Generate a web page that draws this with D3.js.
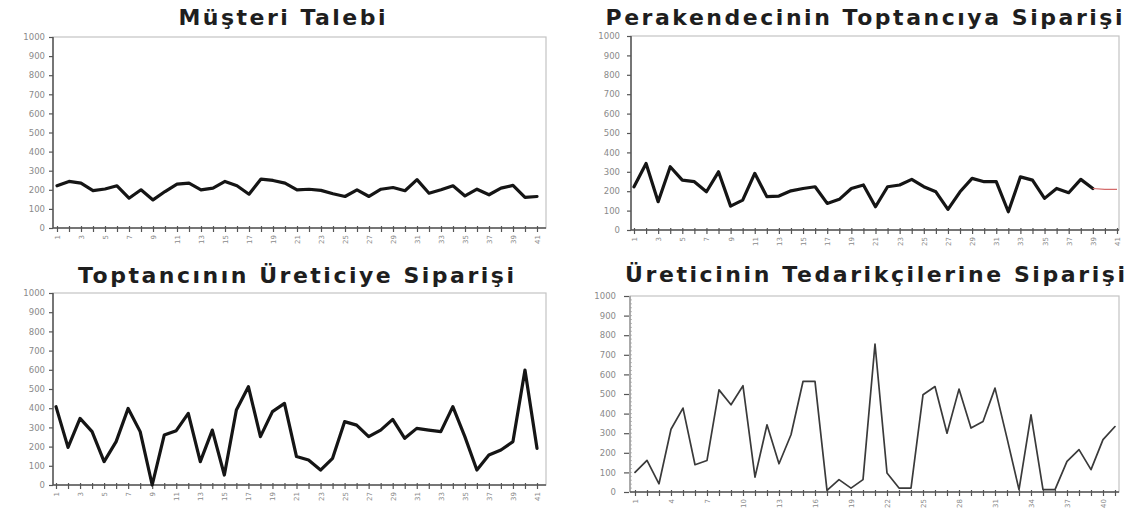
<!DOCTYPE html>
<html><head><meta charset="utf-8">
<script src="https://cdn.jsdelivr.net/npm/d3@7/dist/d3.min.js"></script>
<style>body{margin:0;background:#fff}svg{display:block}</style>
</head><body>
<script>
// ---- data ----
const weeks = [1,2,3,4,5,6,7,8,9,10,11,12,13,14,15,16,17,18,19,20,21,22,23,24,25,26,27,28,29,30,31,32,33,34,35,36,37,38,39,40,41];
const yTicks = [0,100,200,300,400,500,600,700,800,900,1000];
const xLabelsOdd = [1,3,5,7,9,11,13,15,17,19,21,23,25,27,29,31,33,35,37,39,41];
const xLabelsThird = [1,4,7,10,13,16,19,22,25,28,31,34,37,40];
const titles = ["Müşteri Talebi","Perakendecinin Toptancıya Siparişi","Toptancının Üreticiye Siparişi","Üreticinin Tedarikçilerine Siparişi"];
const musteriTalebi = [221,244,235,196,204,221,156,200,147,191,230,235,200,209,244,221,177,256,249,235,200,203,197,179,165,200,165,203,212,195,253,182,200,221,168,203,174,209,223,160,165];
const perakendeSiparisi = [223,343,146,326,257,249,197,300,123,154,292,172,175,202,214,223,137,158,214,232,120,223,232,261,223,197,106,197,266,249,249,94,274,257,163,214,192,261,214,209,209];
const toptanciSiparisi = [408,196,347,278,122,226,399,278,0,260,283,373,122,286,52,391,512,252,382,425,148,130,78,139,330,312,252,286,342,243,295,286,278,408,252,78,156,182,226,599,191];
const ureticiSiparisi = [100,161,42,320,428,139,161,521,445,542,76,343,144,292,564,564,8,63,20,63,755,97,20,20,496,538,300,525,326,360,530,275,12,394,12,12,156,216,114,267,334];

// ---- layout ----
const svg = d3.select("body").append("svg").attr("width",1129).attr("height",508);

const panels = [
  {title:titles[0], data:musteriTalebi, labels:xLabelsOdd, box:[53,546,37,228], px:[57,537],
   tx:282, ty:25, tw:207, lw:3.2, col:"#151515", yGap:8, redTail:0, thin:false},
  {title:titles[1], data:perakendeSiparisi, labels:xLabelsOdd, box:[631,1119,36,230], px:[634,1117],
   tx:864, ty:25, tw:517, lw:3.2, col:"#151515", yGap:11, redTail:2, thin:false},
  {title:titles[2], data:toptanciSiparisi, labels:xLabelsOdd, box:[53,546,293,485], px:[56,537],
   tx:296, ty:283, tw:436, lw:3.2, col:"#151515", yGap:8, redTail:0, thin:false},
  {title:titles[3], data:ureticiSiparisi, labels:xLabelsThird, box:[630,1119,296,492], px:[635,1115],
   tx:875, ty:282, tw:500, lw:1.7, col:"#3a3a3a", yGap:14, redTail:0, thin:true}
];

panels.forEach(p => {
  const [x0,x1,y0,y1] = p.box;
  const g = svg.append("g");
  const x = d3.scalePoint().domain(weeks).range(p.px);
  const y = d3.scaleLinear().domain([0,1000]).range([y1,y0]);

  // title
  g.append("text").attr("x",p.tx).attr("y",p.ty).attr("text-anchor","middle")
    .attr("textLength",p.tw).attr("lengthAdjust","spacing")
    .style("font-family","'DejaVu Sans', Verdana, sans-serif").style("font-weight","bold")
    .style("font-size","22px").style("fill","#1e1e1e").text(p.title);

  // frame (top/right light)
  g.append("rect").attr("x",x0).attr("y",y0).attr("width",x1-x0).attr("height",y1-y0)
    .attr("fill","none").attr("stroke","#c4c4c4").attr("stroke-width",1.2);

  // y axis
  const ya = g.append("g").attr("transform",`translate(${x0},0)`)
    .call(d3.axisLeft(y).tickValues(yTicks).tickSize(4).tickPadding(p.yGap-4).tickFormat(d3.format("d")));
  ya.select(".domain").remove();
  ya.selectAll(".tick line").attr("stroke","#555").attr("stroke-width",1.2);
  ya.selectAll(".tick text").style("font-family","'DejaVu Sans', sans-serif").style("font-size","8.5px").style("fill","#8a8a8a");
  if (p.thin) {
    ya.selectAll(".tick line").attr("x1",-6).attr("x2",-1);
    const minor = d3.range(0,1000,20);
    g.selectAll(null).data(minor).enter().append("line")
      .attr("x1",x0).attr("x2",x0+2).attr("y1",d=>y(d)).attr("y2",d=>y(d))
      .attr("stroke","#aaa").attr("stroke-width",0.8);
  }
  g.append("line").attr("x1",x0).attr("x2",x0).attr("y1",y0).attr("y2",y1)
    .attr("stroke", p.thin ? "#9a9a9a" : "#555").attr("stroke-width",1.5);

  // x axis
  const xa = g.append("g").attr("transform",`translate(0,${y1})`)
    .call(d3.axisBottom(x).tickValues(weeks).tickSize(4).tickSizeOuter(0)
      .tickFormat(d => p.labels.includes(d) ? d : ""));
  xa.select(".domain").remove();
  xa.selectAll(".tick line").attr("stroke","#555").attr("stroke-width",1.2).attr("y1",-2);
  xa.selectAll(".tick text")
    .attr("transform","rotate(-90)").attr("x",-7).attr("y",0).attr("dy","0.35em")
    .style("text-anchor","end").style("font-family","'DejaVu Sans', sans-serif")
    .style("font-size","7px").style("fill","#8a8a8a");
  g.append("line").attr("x1",x0).attr("x2",x1).attr("y1",y1).attr("y2",y1)
    .attr("stroke","#555").attr("stroke-width",1.5);

  // series line
  const line = d3.line().x((d,i)=>x(weeks[i])).y(d=>y(d));
  const n = p.data.length;
  const mainIdx = p.redTail ? n - p.redTail : n;
  g.append("path").datum(p.data.slice(0,mainIdx))
    .attr("d",line).attr("fill","none").attr("stroke",p.col)
    .attr("stroke-width",p.lw).attr("stroke-linejoin","round").attr("stroke-linecap","round");
  if (p.redTail) {
    const tail = p.data.slice(mainIdx-1);
    const tline = d3.line().x((d,i)=>x(weeks[mainIdx-1+i])).y(d=>y(d));
    g.append("path").datum(tail).attr("d",tline).attr("fill","none")
      .attr("stroke","#d46a6a").attr("stroke-width",1.2);
  }
});
</script>
</body></html>
